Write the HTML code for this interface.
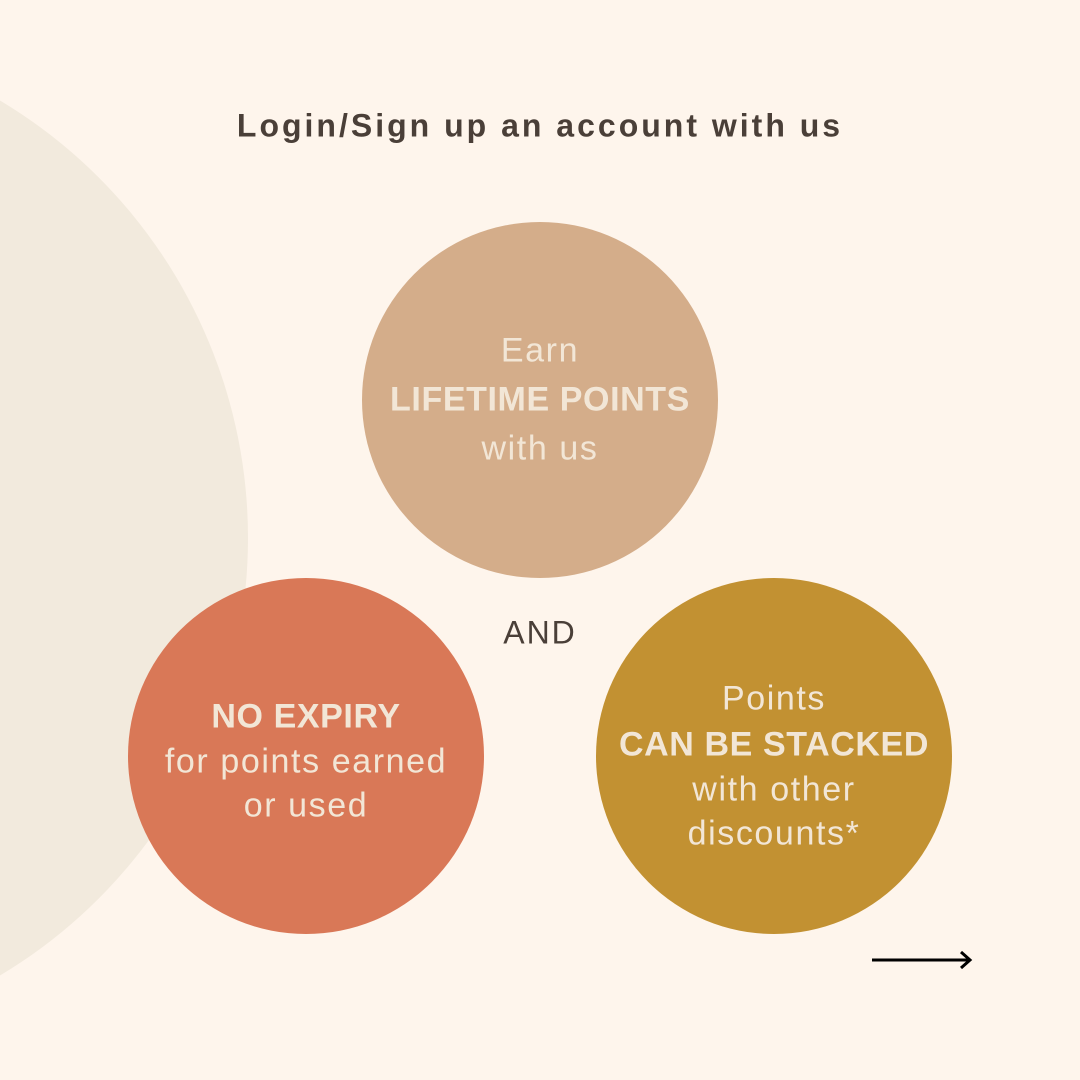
<!DOCTYPE html>
<html><head><meta charset="utf-8"><style>
html,body{margin:0;padding:0}
body{width:1080px;height:1080px;position:relative;overflow:hidden;background:#fef5ec;font-family:"Liberation Sans",sans-serif}
.big{position:absolute;left:-772px;top:28px;width:1020px;height:1020px;border-radius:50%;background:#f2eadd}
.c{position:absolute;width:356px;height:356px;border-radius:50%}
.t{position:absolute;left:0;width:1080px;text-align:center;white-space:nowrap;transform:translateY(-50%)}
.w{color:#f2e6d6;font-size:34px;letter-spacing:1.6px}
.b{font-weight:bold;font-size:34px;letter-spacing:0.6px}
</style></head><body>
<div class="big"></div>
<div class="t" style="top:126px;font-size:32px;font-weight:bold;color:#4a3f38;letter-spacing:3px">Login/Sign up an account with us</div>
<div class="c" style="left:362px;top:222px;background:#d4ad8a"></div>
<div class="c" style="left:128px;top:578px;background:#d97857"></div>
<div class="c" style="left:596px;top:578px;background:#c29132"></div>
<div class="t w" style="top:351px">Earn</div>
<div class="t w b" style="top:400px">LIFETIME POINTS</div>
<div class="t w" style="top:449px">with us</div>
<div class="t" style="top:633px;font-size:32px;color:#4a3f38;letter-spacing:2px">AND</div>
<div class="t w b" style="top:717px;left:-234px">NO EXPIRY</div>
<div class="t w" style="top:762px;left:-234px">for points earned</div>
<div class="t w" style="top:806px;left:-234px">or used</div>
<div class="t w" style="top:699px;left:234px">Points</div>
<div class="t w b" style="top:745px;left:234px">CAN BE STACKED</div>
<div class="t w" style="top:790px;left:234px">with other</div>
<div class="t w" style="top:834px;left:234px">discounts*</div>
<svg style="position:absolute;left:0;top:0" width="1080" height="1080">
<line x1="872" y1="960" x2="970" y2="960" stroke="#000" stroke-width="3"/>
<polyline points="961,952 970,960 961,968" fill="none" stroke="#000" stroke-width="3"/>
</svg>
</body></html>
